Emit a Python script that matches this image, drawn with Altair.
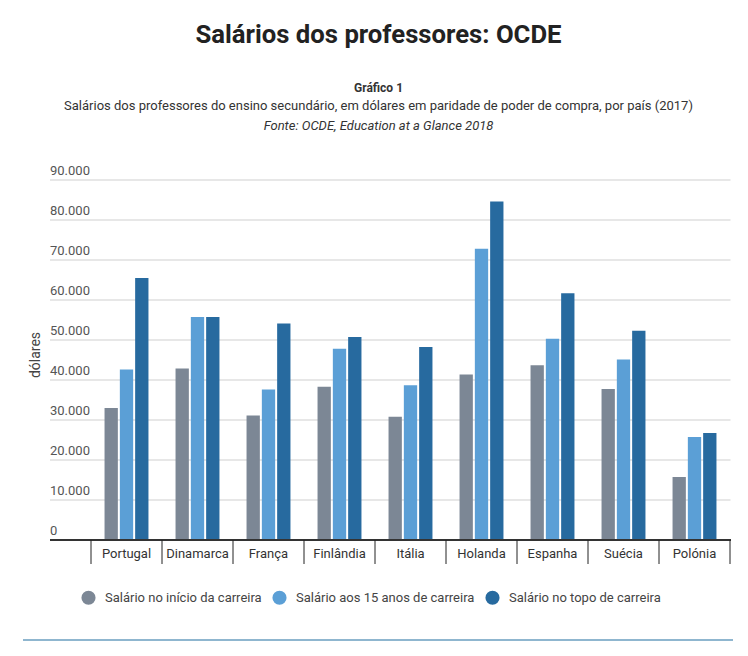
import altair as alt
import pandas as pd

countries = ["Portugal", "Dinamarca", "França", "Finlândia", "Itália",
             "Holanda", "Espanha", "Suécia", "Polónia"]
series = ["Salário no início da carreira", "Salário aos 15 anos de carreira",
          "Salário no topo de carreira"]
inicio = [33000, 42900, 31100, 38300, 30800, 41400, 43700, 37750, 15750]
quinze = [42600, 55750, 37600, 47800, 38700, 72800, 50300, 45100, 25750]
topo = [65500, 55750, 54100, 50750, 48250, 84600, 61700, 52300, 26750]
colors = ["#7c8795", "#5b9fd6", "#276a9f"]
y_ticks = [10000, 20000, 30000, 40000, 50000, 60000, 70000, 80000, 90000]
y_tick_labels = ["10.000", "20.000", "30.000", "40.000", "50.000",
                 "60.000", "70.000", "80.000", "90.000"]

title_txt = "Salários dos professores: OCDE"
sub1 = "Gráfico 1"
sub2 = ("Salários dos professores do ensino secundário, em dólares em paridade "
        "de poder de compra, por país (2017)")
sub3 = "Fonte: OCDE, Education at a Glance 2018"

rows = []
for vals, s in zip([inicio, quinze, topo], series):
    for c, v in zip(countries, vals):
        rows.append({"pais": c, "serie": s, "valor": v})
df = pd.DataFrame(rows)

FONT = "Roboto"
W, H = 639, 360
yscale = alt.Scale(domain=[0, 90000], nice=False, zero=True)
xscale = alt.Scale(domain=countries, paddingInner=0, paddingOuter=0)

ticks_df = pd.DataFrame({"v": [0] + y_ticks, "lab": ["0"] + y_tick_labels})

grid = alt.Chart(pd.DataFrame({"v": y_ticks})).mark_rule(
    color="#cfcfcf", strokeWidth=1
).encode(
    y=alt.Y("v:Q", scale=yscale, axis=None),
    x=alt.value(-41), x2=alt.value(639.5)
)

ylabels = alt.Chart(ticks_df).mark_text(
    align="left", baseline="middle", dy=-9, font=FONT, fontSize=13, color="#555555"
).encode(
    y=alt.Y("v:Q", scale=yscale, axis=None),
    x=alt.value(-41), text="lab:N"
)

bars = alt.Chart(df).mark_bar().encode(
    x=alt.X("pais:N", sort=countries, title=None, scale=xscale,
            axis=alt.Axis(tickSize=24, tickOpacity=0, domain=False, grid=False,
                          labelAngle=0, labelFont=FONT, labelFontSize=13,
                          labelColor="#333333", labelBaseline="middle",
                          labelPadding=-11)),
    xOffset=alt.XOffset("serie:N", sort=series,
                        scale=alt.Scale(paddingInner=0.13, paddingOuter=0.885)),
    y=alt.Y("valor:Q", scale=yscale, axis=None),
    color=alt.Color("serie:N", sort=series,
                    scale=alt.Scale(domain=series, range=colors),
                    legend=alt.Legend(orient="none", direction="horizontal",
                                      legendX=-10, legendY=410, title=None,
                                      symbolType="circle", symbolSize=200,
                                      symbolStrokeWidth=0, labelOffset=9,
                                      columnPadding=10, padding=0, labelLimit=0,
                                      labelFont=FONT, labelFontSize=13,
                                      labelColor="#444444")),
)

sep_start = alt.Chart(pd.DataFrame({"pais": countries})).mark_rule(
    color="#222222", strokeWidth=1
).encode(
    x=alt.X("pais:N", sort=countries, scale=xscale, bandPosition=0),
    y=alt.value(360), y2=alt.value(384)
)
sep_end = alt.Chart(pd.DataFrame({"pais": countries[-1:]})).mark_rule(
    color="#222222", strokeWidth=1
).encode(
    x=alt.X("pais:N", sort=countries, scale=xscale, bandPosition=1),
    y=alt.value(360), y2=alt.value(384)
)

baseline = alt.Chart(pd.DataFrame({"v": [0]})).mark_rule(
    color="#333333", strokeWidth=2
).encode(
    y=alt.Y("v:Q", scale=yscale, axis=None),
    x=alt.value(-41), x2=alt.value(640)
)

ytitle = alt.Chart(pd.DataFrame({"t": ["dólares"]})).mark_text(
    angle=270, align="center", baseline="middle", font=FONT, fontSize=14,
    color="#444444"
).encode(text="t:N", x=alt.value(-55), y=alt.value(175))

def txt(t, y, size, weight="normal", style="normal", color="#333333"):
    return alt.Chart(pd.DataFrame({"t": [t]})).mark_text(
        align="center", baseline="alphabetic", font=FONT, fontSize=size,
        fontWeight=weight, fontStyle=style, color=color
    ).encode(text="t:N", x=alt.value(287.5), y=alt.value(y))

title = txt(title_txt, -137, 25.7, weight="bold", color="#222222")
s1 = txt(sub1, -88, 12, weight="bold")
s2 = txt(sub2, -70, 13)
s3 = txt(sub3, -50, 13, style="italic")

bottom_line = alt.Chart(pd.DataFrame({"v": [0]})).mark_rule(
    color="#8fb6cf", strokeWidth=2
).encode(
    y=alt.value(460), x=alt.value(-68), x2=alt.value(642)
)

chart = alt.layer(
    grid, bars, baseline, sep_start, sep_end, ylabels, ytitle, title, s1, s2, s3,
    bottom_line
).properties(
    width=W, height=H,
    autosize=alt.AutoSizeParams(type="none"),
    padding={"left": 83, "top": 172, "right": 10, "bottom": 108},
    view=alt.ViewBackground(strokeWidth=0, strokeOpacity=0),
).configure_view(strokeWidth=0, strokeOpacity=0).configure(background="white")

chart.save("out.html", embed_options={"renderer": "svg", "actions": False})
